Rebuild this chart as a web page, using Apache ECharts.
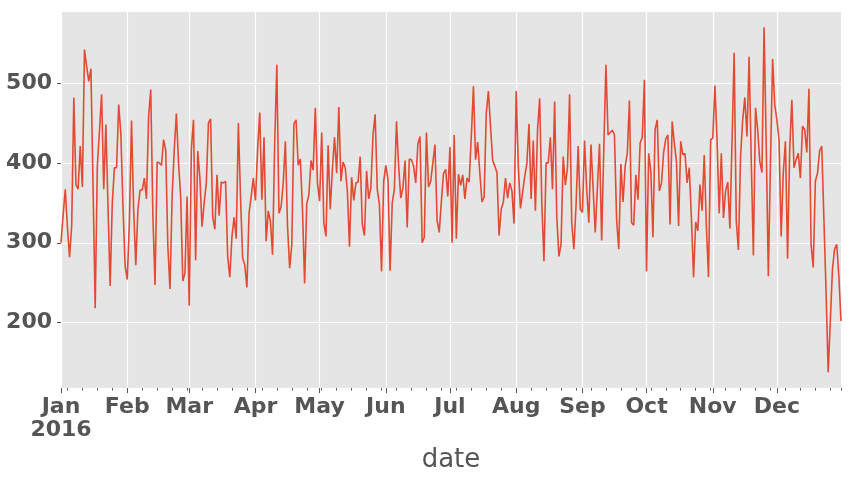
<!DOCTYPE html>
<html>
<head>
<meta charset="utf-8">
<script src="https://cdn.jsdelivr.net/npm/echarts@6/dist/echarts.min.js"></script>
<style>
  html, body { margin: 0; padding: 0; background: #fff; }
  #chart { width: 851px; height: 478px; }
</style>
</head>
<body>
<div id="chart"></div>
<script>
// daily values for 2016, Jan 1 .. Dec 31
var year = 2016;
var jan = [300, 335, 367, 320, 282, 321, 482, 373, 367, 421, 370, 542, 521, 502, 518, 370,
           218, 396, 440, 486, 367, 448, 345, 246, 350, 394, 394, 473, 437, 346, 271];
var feb = [254, 325, 453, 342, 272, 342, 366, 366, 381, 355, 458, 492, 333, 247, 401, 400,
           397, 429, 416, 296, 242, 358, 417, 462, 400, 358, 252, 262, 358];
var mar = [221, 417, 454, 278, 415, 381, 320, 350, 375, 450, 455, 332, 317, 385, 334, 376,
           375, 377, 283, 257, 308, 332, 305, 450, 358, 281, 272, 244, 337, 358, 381];
var apr = [353, 417, 463, 354, 432, 302, 340, 327, 285, 425, 523, 337, 345, 375, 427, 321,
           268, 298, 449, 454, 397, 405, 342, 249, 349, 360, 403, 391, 469, 375];
var may = [352, 438, 325, 308, 422, 342, 392, 432, 387, 470, 377, 401, 394, 365, 295, 382,
           353, 375, 376, 408, 323, 309, 390, 355, 369, 435, 461, 367, 348, 264, 377];
var jun = [397, 379, 265, 350, 367, 452, 396, 356, 369, 403, 319, 405, 404, 396, 375, 424,
           433, 300, 307, 438, 370, 377, 400, 423, 328, 313, 352, 387, 392, 358];
var jul = [420, 300, 435, 305, 386, 372, 385, 355, 381, 376, 433, 496, 404, 426, 387, 351,
           357, 462, 490, 446, 403, 396, 388, 309, 342, 351, 381, 356, 375, 365, 324];
var aug = [490, 396, 343, 363, 383, 399, 449, 355, 428, 340, 442, 481, 350, 277, 400, 400,
           432, 367, 477, 333, 283, 298, 408, 372, 394, 486, 325, 292, 346, 421, 342];
var sep = [338, 428, 367, 325, 423, 369, 313, 369, 424, 303, 417, 523, 435, 438, 441, 435,
           329, 292, 399, 351, 396, 412, 478, 325, 322, 385, 354, 425, 432, 504];
var oct = [264, 412, 390, 307, 442, 454, 365, 375, 413, 430, 435, 323, 452, 425, 402, 321,
           427, 410, 412, 375, 394, 331, 257, 326, 315, 373, 340, 410, 321, 257, 429];
var nov = [431, 497, 429, 337, 412, 331, 365, 376, 318, 426, 538, 327, 291, 408, 454, 482,
           433, 533, 404, 284, 469, 442, 402, 388, 570, 425, 258, 402, 530, 473];
var dec = [454, 429, 308, 388, 427, 280, 417, 479, 394, 404, 412, 381, 446, 442, 413, 493,
           298, 269, 377, 387, 415, 421, 330, 240, 138, 202, 267, 292, 298, 258, 202];

var monthNames = ['Jan', 'Feb', 'Mar', 'Apr', 'May', 'Jun', 'Jul', 'Aug', 'Sep', 'Oct', 'Nov', 'Dec'];
var yTicks = [200, 300, 400, 500];

var months = [jan, feb, mar, apr, may, jun, jul, aug, sep, oct, nov, dec];
var values = [].concat.apply([], months);

// x is the day of year (0 = Jan 1)
var seriesData = values.map(function (v, i) {
    return [i, v];
});

var monthStarts = [];
var acc = 0;
months.forEach(function (m) {
    monthStarts.push(acc);
    acc += m.length;
});

// weekly minor ticks on mondays
var mondays = [];
for (var i = 0; i < values.length; i++) {
    if (new Date(year, 0, 1 + i).getDay() === 1) mondays.push(i);
}
mondays.push(values.length - 1);

var xMax = values.length - 1;
var textColor = '#555555';

var chart = echarts.init(document.getElementById('chart'));
var options = {
    animation: false,
    backgroundColor: '#ffffff',
    grid: {
        left: 61,
        right: 10,
        top: 12,
        bottom: 88,
        show: true,
        backgroundColor: '#E5E5E5',
        borderWidth: 0
    },
    xAxis: [
        {
            type: 'value',
            min: 0,
            max: xMax,
            name: 'date',
            nameLocation: 'middle',
            nameGap: 54,
            nameTextStyle: {
                color: textColor,
                fontSize: 26,
                fontFamily: 'DejaVu Sans'
            },
            axisLine: {show: false},
            axisTick: {
                show: true,
                length: 5,
                customValues: monthStarts,
                lineStyle: {color: textColor, width: 1}
            },
            splitLine: {
                show: true,
                lineStyle: {color: '#ffffff', width: 1.2}
            },
            axisLabel: {
                show: true,
                customValues: monthStarts,
                margin: 8,
                color: textColor,
                fontSize: 22,
                fontWeight: 'bold',
                fontFamily: 'DejaVu Sans',
                lineHeight: 23,
                formatter: function (val) {
                    var k = monthStarts.indexOf(val);
                    if (k === 0) return monthNames[0] + '\n' + year;
                    return monthNames[k];
                }
            }
        },
        {
            type: 'value',
            min: 0,
            max: xMax,
            position: 'bottom',
            axisLine: {show: false},
            axisLabel: {show: false},
            splitLine: {show: false},
            axisTick: {
                show: true,
                length: 2.5,
                customValues: mondays,
                lineStyle: {color: textColor, width: 1}
            }
        }
    ],
    yAxis: {
        type: 'value',
        min: 118,
        max: 589,
        axisLine: {show: false},
        axisTick: {
            show: true,
            length: 4,
            customValues: yTicks,
            lineStyle: {color: textColor, width: 1}
        },
        splitLine: {
            show: true,
            lineStyle: {color: '#ffffff', width: 1.2}
        },
        axisLabel: {
            customValues: yTicks,
            margin: 9,
            color: textColor,
            fontSize: 22,
            fontWeight: 'bold',
            fontFamily: 'DejaVu Sans'
        }
    },
    series: [
        {
            type: 'line',
            data: seriesData,
            symbol: 'none',
            lineStyle: {color: '#E24A33', width: 1.6},
            itemStyle: {color: '#E24A33'}
        }
    ]
};

chart.setOption(options);
</script>
</body>
</html>
